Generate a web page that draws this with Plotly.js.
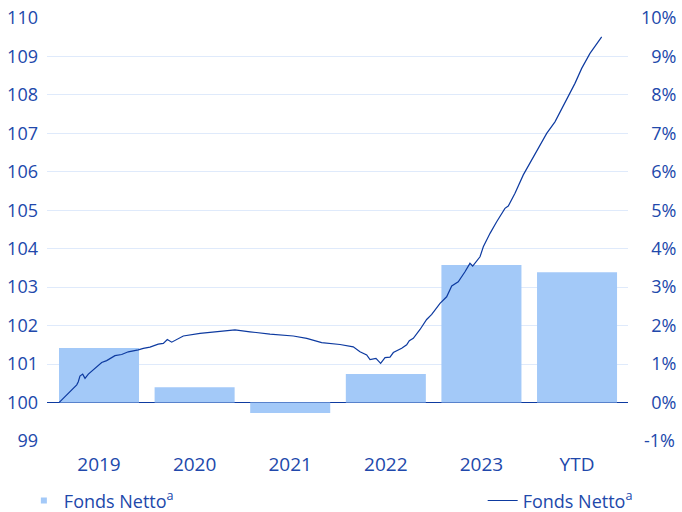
<!DOCTYPE html>
<html>
<head>
<meta charset="utf-8">
<script src="https://cdn.plot.ly/plotly-3.0.1.min.js"></script>
<style>html,body{margin:0;padding:0;background:#fff;}#chart{width:682px;height:512px;}</style>
</head>
<body>
<div id="chart"></div>
<script>
// Bars: yearly net fund return (%)
const categories = ['2019', '2020', '2021', '2022', '2023', 'YTD'];
const barValues = [1.42, 0.40, -0.27, 0.74, 3.58, 3.39];

// Line: indexed net fund value (start = 100), time in decimal years
const lineTime = [2019.000, 2019.079, 2019.147, 2019.182, 2019.198, 2019.215, 2019.243, 2019.267, 2019.301, 2019.352,
  2019.438, 2019.489, 2019.574, 2019.643, 2019.711, 2019.813, 2019.865, 2019.933, 2020.018, 2020.070,
  2020.111, 2020.156, 2020.275, 2020.446, 2020.651, 2020.805, 2020.959, 2021.164, 2021.403, 2021.541,
  2021.694, 2021.882, 2022.018, 2022.087, 2022.156, 2022.190, 2022.251, 2022.299, 2022.344, 2022.395,
  2022.429, 2022.515, 2022.566, 2022.593, 2022.634, 2022.703, 2022.771, 2022.823, 2022.908, 2022.976,
  2023.028, 2023.095, 2023.164, 2023.215, 2023.243, 2023.318, 2023.352, 2023.421, 2023.489, 2023.574,
  2023.608, 2023.677, 2023.762, 2023.865, 2024.002, 2024.087, 2024.224, 2024.292, 2024.361, 2024.446,
  2024.566];
const lineValues = [100.00, 100.20, 100.37, 100.46, 100.54, 100.69, 100.74, 100.63, 100.74, 100.85,
  101.04, 101.09, 101.22, 101.25, 101.32, 101.37, 101.41, 101.44, 101.52, 101.54,
  101.64, 101.57, 101.73, 101.80, 101.85, 101.89, 101.84, 101.78, 101.73, 101.67,
  101.56, 101.51, 101.45, 101.32, 101.24, 101.12, 101.15, 101.02, 101.17, 101.18,
  101.30, 101.41, 101.50, 101.61, 101.67, 101.90, 102.16, 102.29, 102.58, 102.75,
  103.03, 103.14, 103.40, 103.62, 103.55, 103.79, 104.05, 104.40, 104.70, 105.05,
  105.11, 105.44, 105.92, 106.39, 107.00, 107.30, 107.95, 108.30, 108.69, 109.08,
  109.51];

const leftTicks = [99, 100, 101, 102, 103, 104, 105, 106, 107, 108, 109, 110];
const rightTicks = [-1, 0, 1, 2, 3, 4, 5, 6, 7, 8, 9, 10];
const rightTickText = rightTicks.map(v => v < 0 ? '\u2009' + v + '%' : (v < 10 ? '\u2007' + v + '%' : v + '%'));

const seriesName = 'Fonds Netto<sup>a</sup>';
const textColor = '#2148ab';
const barColor = '#a3c9f8';
const lineColor = '#0d3aa0';
const font = '"Open Sans", "Noto Sans", sans-serif';

const traces = [
  {
    type: 'bar', x: categories, y: barValues, xaxis: 'x', yaxis: 'y',
    marker: {color: barColor}, showlegend: false, hoverinfo: 'skip'
  },
  {
    type: 'scatter', mode: 'markers', x: [null], y: [null], xaxis: 'x', yaxis: 'y',
    name: seriesName, marker: {symbol: 'square', size: 6, color: barColor}, legend: 'legend'
  },
  {
    type: 'scatter', mode: 'lines', x: lineTime, y: lineValues, xaxis: 'x2', yaxis: 'y2',
    name: seriesName, line: {color: lineColor, width: 1.2}, legend: 'legend2'
  }
];

const layout = {
  width: 682, height: 512,
  margin: {l: 47, r: 54, t: 18, b: 71},
  paper_bgcolor: '#fff', plot_bgcolor: '#fff',
  font: {family: font, size: 18, color: textColor},
  bargap: 0.163,
  showlegend: true,
  xaxis: {
    type: 'category', range: [-0.544, 5.533], showgrid: false, zeroline: false,
    showline: false, ticks: '', tickfont: {size: 19, color: textColor}, fixedrange: true,
    ticklabelstandoff: 10
  },
  xaxis2: {
    overlaying: 'x', range: [2018.877, 2024.836], visible: false, anchor: 'y2'
  },
  yaxis: {
    side: 'right', range: [-1, 10], tickvals: rightTicks, ticktext: rightTickText,
    showgrid: true, gridcolor: '#dfeafb', gridwidth: 1,
    zeroline: true, zerolinecolor: '#0d3aa0', zerolinewidth: 1.5,
    showline: false, ticks: '', tickfont: {size: 18, color: textColor},
    ticklabelstandoff: 12
  },
  yaxis2: {
    overlaying: 'y', side: 'left', anchor: 'x2', range: [99, 110], tickvals: leftTicks,
    showgrid: false, zeroline: false, showline: false, ticks: '',
    tickfont: {size: 18, color: textColor}, ticklabelstandoff: 8
  },
  legend: {
    orientation: 'h', xref: 'container', x: 0.035, xanchor: 'left', yref: 'container', y: 0.058, yanchor: 'top',
    font: {size: 18, color: textColor}, bgcolor: 'rgba(0,0,0,0)'
  },
  legend2: {
    orientation: 'h', xref: 'container', x: 0.935, xanchor: 'right', yref: 'container', y: 0.058, yanchor: 'top',
    font: {size: 18, color: textColor}, bgcolor: 'rgba(0,0,0,0)'
  }
};

Plotly.newPlot('chart', traces, layout, {staticPlot: true, displayModeBar: false});
</script>
</body>
</html>
